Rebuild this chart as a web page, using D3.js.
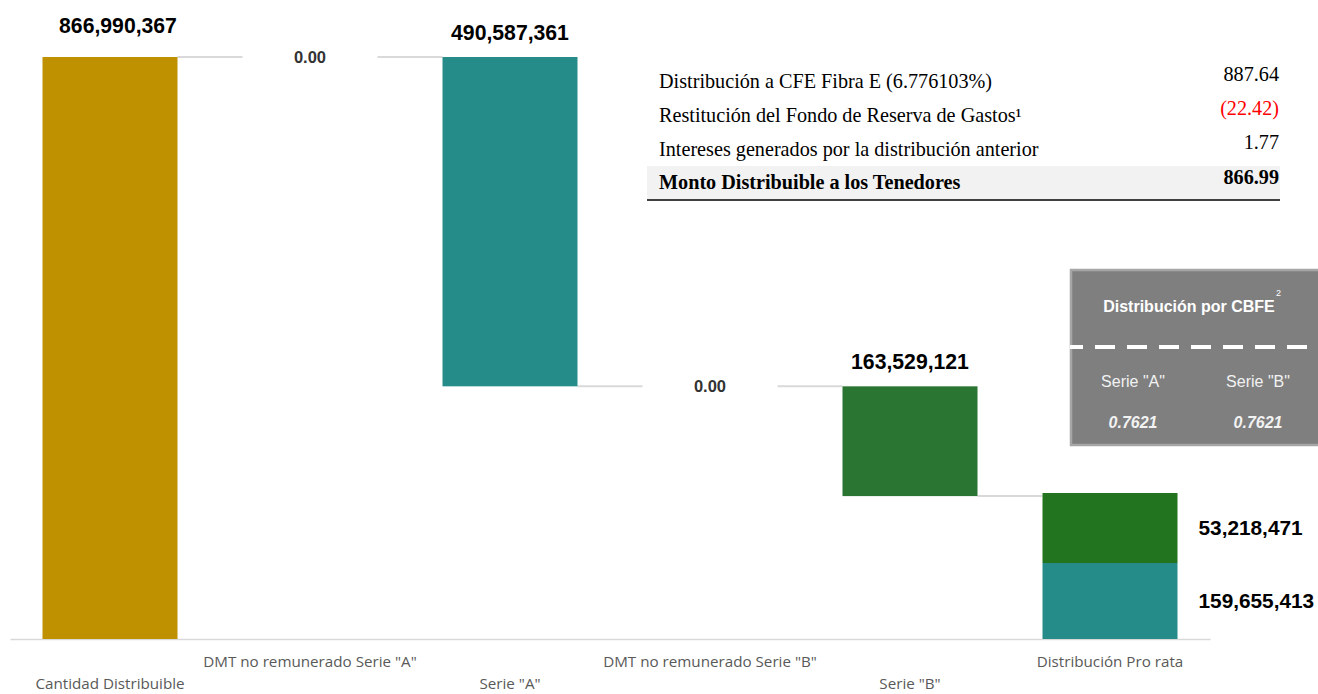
<!DOCTYPE html>
<html>
<head>
<meta charset="utf-8">
<script src="https://cdn.jsdelivr.net/npm/d3@7"></script>
<style>
  html, body { margin: 0; padding: 0; background: #ffffff; }
  svg { display: block; }
</style>
</head>
<body>
<svg id="chart" width="1318" height="694"></svg>
<script>
// ---------- data ----------
const categories = ["Cantidad Distribuible", "DMT no remunerado Serie \"A\"", "Serie \"A\"",
                    "DMT no remunerado Serie \"B\"", "Serie \"B\"", "Distribución Pro rata"];
// waterfall steps (first = total, then deductions)
const stepValues = [866990367, 0, 490587361, 0, 163529121];
const stepColors = ["#bf9000", "#ffffff", "#268c8a", "#ffffff", "#2a7532"];
// Pro rata stacked bar: [Serie "A", Serie "B"] — drawn heights
const proRataDrawn = [113200000, 104300000];
const proRataLabels = ["159,655,413", "53,218,471"];
const proRataColors = ["#268c8a", "#22741f"];

const tableLabels = ["Distribución a CFE Fibra E (6.776103%)",
                     "Restitución del Fondo de Reserva de Gastos¹",
                     "Intereses generados por la distribución anterior",
                     "Monto Distribuible a los Tenedores"];
const tableValues = ["887.64", "(22.42)", "1.77", "866.99"];

const boxTitle = "Distribución por CBFE";
const boxSeries = ["Serie \"A\"", "Serie \"B\""];
const boxValues = ["0.7621", "0.7621"];

// ---------- scales ----------
const svg = d3.select("#chart");
const x = d3.scaleBand().domain(categories).range([10, 1210])
  .paddingInner(0.325).paddingOuter(0.1625);
const y = d3.scaleLinear().domain([0, 866990367]).range([639, 57]);
const fmt = d3.format(",");

// compute waterfall segments
let running = 0;
const bars = stepValues.map((v, i) => {
  let y0, y1;
  if (i === 0) { y0 = 0; y1 = v; running = v; }
  else { y1 = running; y0 = running - v; running = y0; }
  return { cat: categories[i], y0, y1, v, color: stepColors[i] };
});

// connector lines
const connectors = [];
for (let i = 0; i < bars.length; i++) {
  const level = i === 0 ? bars[i].y1 : bars[i].y0;
  connectors.push({ x1: x(categories[i]) + x.bandwidth(), x2: x(categories[i + 1]), level });
}
svg.append("g").selectAll("line").data(connectors).join("line")
  .attr("x1", d => d.x1).attr("x2", d => d.x2)
  .attr("y1", d => y(d.level)).attr("y2", d => y(d.level))
  .attr("stroke", "#d9d9d9").attr("stroke-width", 2);

// baseline axis
const axisG = svg.append("g").attr("transform", `translate(0,${y(0)})`)
  .call(d3.axisBottom(x).tickSize(0).tickPadding(0));
axisG.select(".domain").attr("stroke", "#d9d9d9").attr("stroke-width", 1.5);
axisG.selectAll(".tick text")
  .attr("font-family", "'Open Sans', sans-serif")
  .attr("font-size", 15.2).attr("fill", "#595959")
  .attr("dy", null)
  .attr("y", (d, i) => i % 2 === 0 ? 50 : 28);

// waterfall bars
svg.append("g").selectAll("rect").data(bars.filter(b => b.v !== 0)).join("rect")
  .attr("x", d => x(d.cat)).attr("width", x.bandwidth())
  .attr("y", d => y(d.y1)).attr("height", d => y(d.y0) - y(d.y1))
  .attr("fill", d => d.color);

// labels
const labelFont = "'Liberation Sans', Arial, sans-serif";
svg.append("g").selectAll("text").data(bars).join("text")
  .attr("x", d => x(d.cat) + x.bandwidth() / 2 + (d === bars[0] ? 8 : 0))
  .attr("y", d => d.v === 0 ? y(d.y1) + 6 : y(d.y1) - (d === bars[0] ? 24 : 17))
  .attr("text-anchor", "middle")
  .attr("font-family", labelFont).attr("font-weight", "bold")
  .attr("font-size", d => d.v === 0 ? 16.5 : 21.2)
  .attr("fill", d => d.v === 0 ? "#333333" : "#000000")
  .text(d => d.v === 0 ? "0.00" : fmt(d.v));

// pro rata stacked bar
const prCat = categories[5];
let acc = 0;
const stacks = proRataDrawn.map((v, i) => {
  const s = { y0: acc, y1: acc + v, label: proRataLabels[i], color: proRataColors[i] };
  acc += v; return s;
});
svg.append("g").selectAll("rect").data(stacks).join("rect")
  .attr("x", x(prCat)).attr("width", x.bandwidth())
  .attr("y", d => y(d.y1)).attr("height", d => y(d.y0) - y(d.y1))
  .attr("fill", d => d.color);
svg.append("g").selectAll("text").data(stacks).join("text")
  .attr("x", x(prCat) + x.bandwidth() + 21)
  .attr("y", d => (y(d.y0) + y(d.y1)) / 2 + 7)
  .attr("font-family", labelFont).attr("font-weight", "bold").attr("font-size", 20.8)
  .attr("fill", "#000").text(d => d.label);

// ---------- table ----------
const tab = svg.append("g");
const rowY = [88, 122, 156, 189];
const valY = [81, 115, 149, 184];
tab.append("rect").attr("x", 647).attr("y", 166).attr("width", 633).attr("height", 33)
  .attr("fill", "#f2f2f2");
tab.append("line").attr("x1", 647).attr("x2", 1280).attr("y1", 200).attr("y2", 200)
  .attr("stroke", "#404040").attr("stroke-width", 2);
tab.selectAll("text.lbl").data(tableLabels).join("text").attr("class", "lbl")
  .attr("x", 659).attr("y", (d, i) => rowY[i])
  .attr("font-family", "'Liberation Serif', 'Times New Roman', serif")
  .attr("font-size", 20.2).attr("fill", "#000")
  .attr("font-weight", (d, i) => i === 3 ? "bold" : "normal")
  .text(d => d);
tab.selectAll("text.val").data(tableValues).join("text").attr("class", "val")
  .attr("x", 1279).attr("y", (d, i) => valY[i]).attr("text-anchor", "end")
  .attr("font-family", "'Liberation Serif', 'Times New Roman', serif")
  .attr("font-size", 20.2)
  .attr("fill", d => d.startsWith("(") ? "#ff0000" : "#000")
  .attr("font-weight", (d, i) => i === 3 ? "bold" : "normal")
  .text(d => d);

// ---------- gray box ----------
const box = svg.append("g");
box.append("rect").attr("x", 1071).attr("y", 270).attr("width", 252).attr("height", 175)
  .attr("fill", "#7f7f7f").attr("stroke", "#a6a6a6").attr("stroke-width", 2.5);
box.append("text").attr("x", 1189).attr("y", 312).attr("text-anchor", "middle")
  .attr("font-family", "'Liberation Sans', Arial, sans-serif").attr("font-weight", "bold")
  .attr("font-size", 16).attr("fill", "#ffffff").text(boxTitle);
box.append("text").attr("x", 1276).attr("y", 296)
  .attr("font-family", "'Liberation Sans', Arial, sans-serif")
  .attr("font-size", 9).attr("fill", "#ffffff").text("2");
box.append("line").attr("x1", 1070).attr("x2", 1318).attr("y1", 347).attr("y2", 347)
  .attr("stroke", "#ffffff").attr("stroke-width", 4).attr("stroke-dasharray", "20,12")
  .attr("stroke-dashoffset", 7);
const boxX = [1133, 1258];
box.selectAll("text.ser").data(boxSeries).join("text").attr("class", "ser")
  .attr("x", (d, i) => boxX[i]).attr("y", 387).attr("text-anchor", "middle")
  .attr("font-family", "'Liberation Sans', Arial, sans-serif")
  .attr("font-size", 16).attr("fill", "#f2f2f2").text(d => d);
box.selectAll("text.bv").data(boxValues).join("text").attr("class", "bv")
  .attr("x", (d, i) => boxX[i]).attr("y", 428).attr("text-anchor", "middle")
  .attr("font-family", "'Liberation Sans', Arial, sans-serif")
  .attr("font-size", 16).attr("font-weight", "bold").attr("font-style", "italic")
  .attr("fill", "#f2f2f2").text(d => d);
</script>
</body>
</html>
